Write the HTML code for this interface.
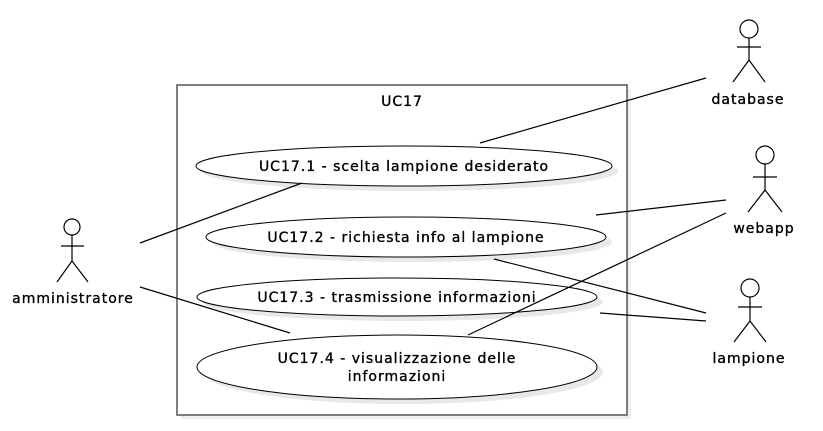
<!DOCTYPE html>
<html><head><style>body{margin:0;background:#fff}</style></head><body>
<svg width="823" height="426" xmlns="http://www.w3.org/2000/svg" font-family="DejaVu Sans, sans-serif" font-size="14" letter-spacing="1">
<rect x="181" y="89" width="450" height="330" fill="#eee"/>
<rect x="177" y="85" width="450" height="330" fill="#fff" stroke="#555" stroke-width="1.5"/>
<g fill="#e8e8e8">
<ellipse cx="410" cy="171" rx="208" ry="20"/>
<ellipse cx="412" cy="242" rx="200" ry="20"/>
<ellipse cx="403" cy="302" rx="200" ry="19"/>
<ellipse cx="403" cy="372" rx="200" ry="32"/>
</g>
<g fill="#fff" stroke="#000" stroke-width="1">
<ellipse cx="404" cy="166" rx="208" ry="20"/>
<ellipse cx="406" cy="237" rx="200" ry="20"/>
<ellipse cx="397" cy="297" rx="200" ry="19"/>
<ellipse cx="397" cy="367" rx="200" ry="32"/>
</g>
<g text-anchor="middle" stroke="#000" stroke-width="0.35">
<text x="402" y="106">UC17</text>
<text x="404" y="171">UC17.1 - scelta lampione desiderato</text>
<text x="406" y="242">UC17.2 - richiesta info al lampione</text>
<text x="397" y="302">UC17.3 - trasmissione informazioni</text>
<text x="397" y="363">UC17.4 - visualizzazione delle</text>
<text x="397" y="381">informazioni</text>
<text x="73" y="303">amministratore</text>
<text x="748" y="104">database</text>
<text x="764" y="233">webapp</text>
<text x="749" y="363">lampione</text>
</g>
<g stroke="#000" stroke-width="1.2" fill="none">
<line x1="480" y1="143" x2="706" y2="78"/>
<line x1="140" y1="243" x2="302" y2="183"/>
<line x1="140" y1="287" x2="290" y2="333"/>
<line x1="596" y1="215" x2="726" y2="200"/>
<line x1="468" y1="335" x2="726" y2="213"/>
<line x1="494" y1="259" x2="706" y2="313"/>
<line x1="600" y1="313" x2="706" y2="321"/>
<circle cx="72" cy="227" r="8"/><line x1="61" y1="246" x2="84" y2="246"/><line x1="72" y1="235" x2="72" y2="261"/><path d="M57 282 L72 261 L88 282"/>
<circle cx="749" cy="29" r="9"/><line x1="737" y1="47" x2="761" y2="47"/><line x1="749" y1="38" x2="749" y2="60"/><path d="M733 82 L749 60 L765 82"/>
<circle cx="765" cy="155" r="9"/><line x1="753" y1="177" x2="777" y2="177"/><line x1="765" y1="164" x2="765" y2="190"/><path d="M748 212 L765 190 L782 212"/>
<circle cx="750" cy="288" r="9"/><line x1="738" y1="307" x2="762" y2="307"/><line x1="750" y1="297" x2="750" y2="321"/><path d="M734 342 L750 321 L766 342"/>
</g>
</svg>
</body></html>
